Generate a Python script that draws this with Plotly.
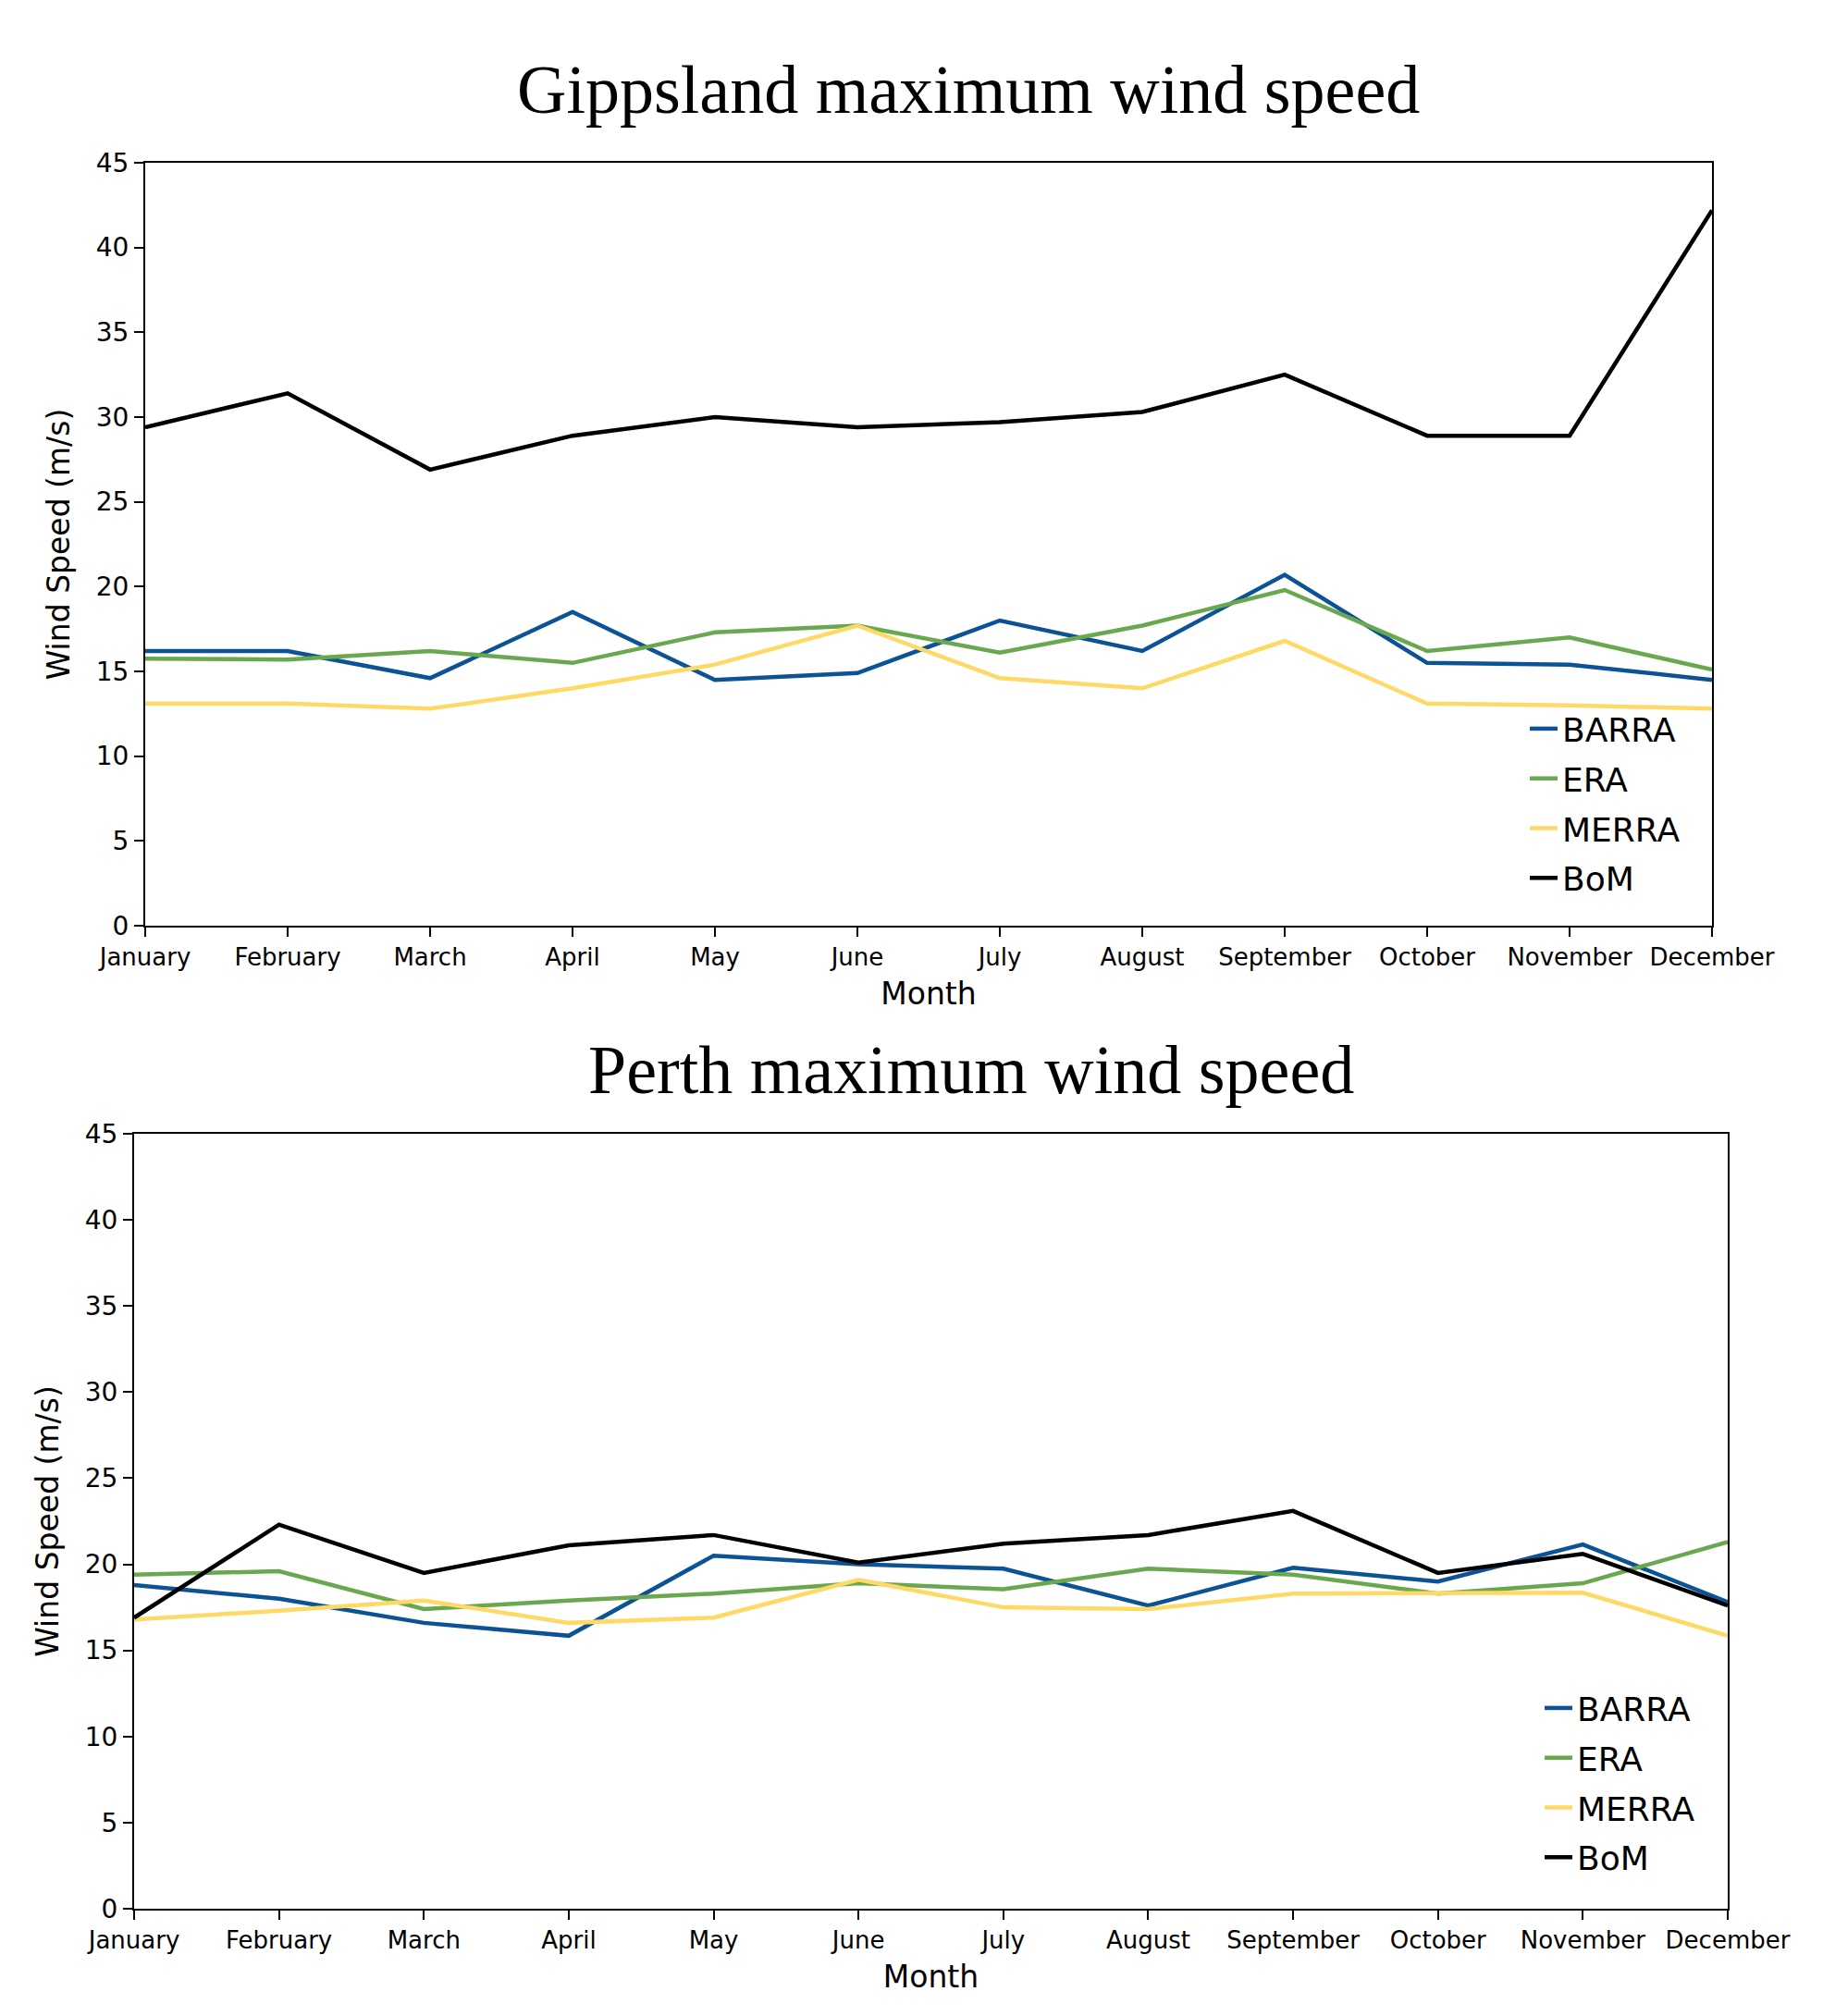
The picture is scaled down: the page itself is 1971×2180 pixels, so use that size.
import plotly.graph_objects as go

months = ["January", "February", "March", "April", "May", "June", "July",
          "August", "September", "October", "November", "December"]

series_names = ["BARRA", "ERA", "MERRA", "BoM"]
colors = {"BARRA": "#0b5394", "ERA": "#6aa84f", "MERRA": "#ffd966", "BoM": "#000000"}

# Gippsland
gipp_barra = [16.2, 16.2, 14.6, 18.5, 14.5, 14.9, 18.0, 16.2, 20.7, 15.5, 15.4, 14.5]
gipp_era = [15.75, 15.7, 16.2, 15.5, 17.3, 17.7, 16.1, 17.7, 19.8, 16.2, 17.0, 15.1]
gipp_merra = [13.1, 13.1, 12.8, 14.0, 15.4, 17.7, 14.6, 14.0, 16.8, 13.1, 13.0, 12.8]
gipp_bom = [29.4, 31.4, 26.9, 28.9, 30.0, 29.4, 29.7, 30.3, 32.5, 28.9, 28.9, 42.2]

# Perth
perth_barra = [18.8, 18.0, 16.6, 15.85, 20.5, 20.0, 19.75, 17.6, 19.8, 19.0, 21.15, 17.8]
perth_era = [19.4, 19.6, 17.4, 17.9, 18.3, 18.9, 18.55, 19.75, 19.4, 18.3, 18.9, 21.3]
perth_merra = [16.8, 17.3, 17.9, 16.6, 16.9, 19.1, 17.5, 17.4, 18.3, 18.3, 18.35, 15.85]
perth_bom = [16.9, 22.3, 19.5, 21.1, 21.7, 20.1, 21.2, 21.7, 23.1, 19.5, 20.6, 17.6]

y_ticks = [0, 5, 10, 15, 20, 25, 30, 35, 40, 45]

OFF = 8  # default page body margin
W, H = 1971 - 2 * OFF, 2180 - 2 * OFF

def px_x(p):
    return (p - OFF) / W

def px_y(p):
    return 1 - (p - OFF) / H

fig = go.Figure()

top = {"BARRA": gipp_barra, "ERA": gipp_era, "MERRA": gipp_merra, "BoM": gipp_bom}
bot = {"BARRA": perth_barra, "ERA": perth_era, "MERRA": perth_merra, "BoM": perth_bom}

for name in series_names:
    fig.add_trace(go.Scatter(x=months, y=top[name], mode="lines", name=name,
                             line=dict(color=colors[name], width=4.5),
                             xaxis="x", yaxis="y", legend="legend",
                             legendgroup="top_" + name))
for name in series_names:
    fig.add_trace(go.Scatter(x=months, y=bot[name], mode="lines", name=name,
                             line=dict(color=colors[name], width=4.5),
                             xaxis="x2", yaxis="y2", legend="legend2",
                             legendgroup="bot_" + name))

tickfont_x = dict(family="DejaVu Sans", size=26, color="black")
tickfont_y = dict(family="DejaVu Sans", size=28, color="black")
titlefont = dict(family="DejaVu Sans", size=33, color="black")

def xaxis_cfg(domain, anchor):
    return dict(domain=domain, anchor=anchor, type="category", range=[0, 11],
                showline=True, linecolor="black", linewidth=2, mirror=True,
                ticks="outside", ticklen=10, tickwidth=2, tickcolor="black",
                showgrid=False, zeroline=False, tickfont=tickfont_x,
                automargin=False,
                title=dict(text="Month", font=titlefont, standoff=14))

def yaxis_cfg(domain, anchor):
    return dict(domain=domain, anchor=anchor, range=[0, 45], tickvals=y_ticks,
                showline=True, linecolor="black", linewidth=2, mirror=True,
                ticks="outside", ticklen=10, tickwidth=2, tickcolor="black",
                showgrid=False, zeroline=False, tickfont=tickfont_y,
                automargin=False,
                title=dict(text="Wind Speed (m/s)", font=titlefont, standoff=18))

legend_common = dict(font=dict(family="DejaVu Sans", size=36, color="black"),
                     bgcolor="rgba(255,255,255,0)", borderwidth=0,
                     xanchor="left", yanchor="top", tracegroupgap=4,
                     traceorder="grouped")

fig.update_layout(
    width=W, height=H,
    margin=dict(l=0, r=0, t=0, b=0, autoexpand=False),
    paper_bgcolor="white", plot_bgcolor="white",
    showlegend=True,
    xaxis=xaxis_cfg([px_x(157), px_x(1851)], "y"),
    yaxis=yaxis_cfg([px_y(1001), px_y(176)], "x"),
    xaxis2=xaxis_cfg([px_x(145), px_x(1868)], "y2"),
    yaxis2=yaxis_cfg([px_y(2064), px_y(1226)], "x2"),
    legend=dict(x=px_x(1649), y=px_y(758), **legend_common),
    legend2=dict(x=px_x(1665), y=px_y(1817), **legend_common),
    annotations=[
        dict(text="Gippsland maximum wind speed", xref="paper", yref="paper",
             x=px_x(1047), y=px_y(97), xanchor="center", yanchor="middle",
             showarrow=False,
             font=dict(family="Liberation Serif", size=74, color="black")),
        dict(text="Perth maximum wind speed", xref="paper", yref="paper",
             x=px_x(1050), y=px_y(1157), xanchor="center", yanchor="middle",
             showarrow=False,
             font=dict(family="Liberation Serif", size=74, color="black")),
    ],
)

fig.write_html("out.html")
